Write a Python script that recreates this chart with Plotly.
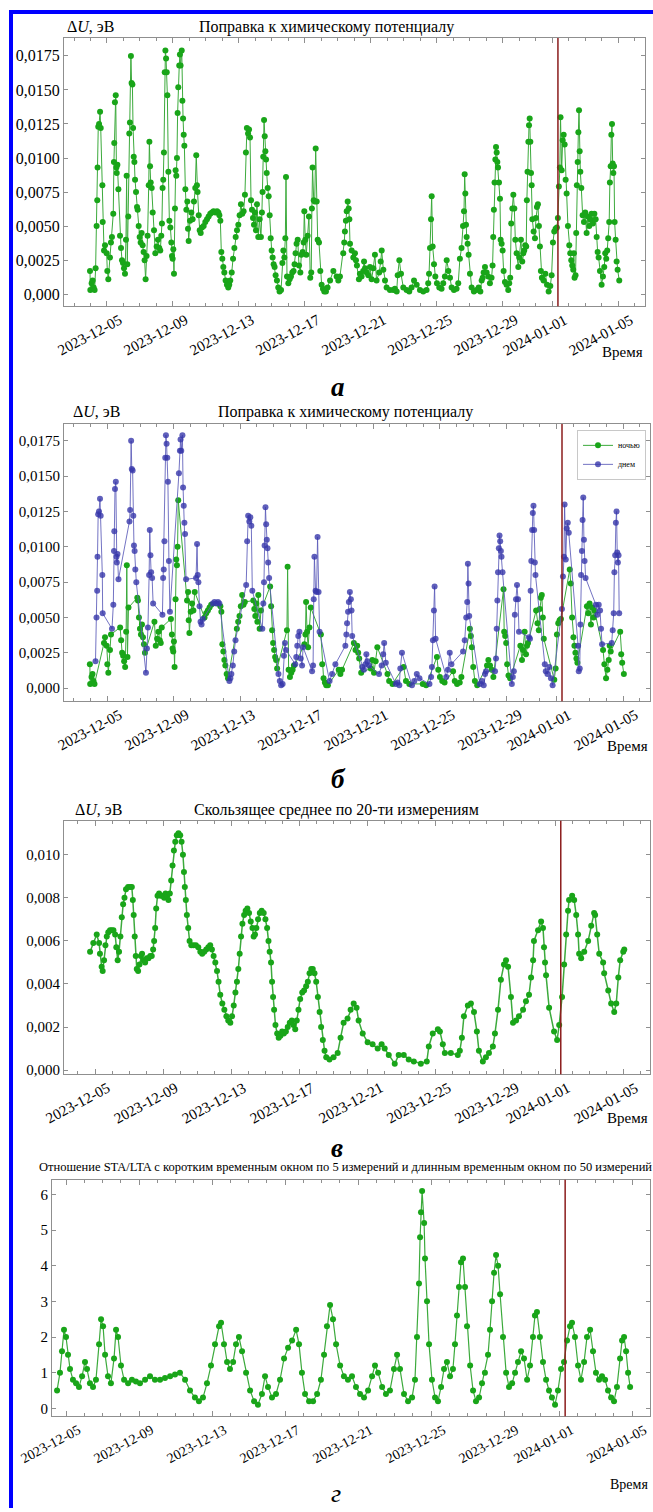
import pandas as pd
import plotly.graph_objects as go

BASE = pd.Timestamp("2023-12-05")

# ---------- Panel а / б : correction to chemical potential (time in days since 2023-12-05) ----------
t_a = [
    -1.03, -1.01, -0.93, -0.87, -0.81, -0.75, -0.69, -0.63, -0.59, -0.57,
    -0.53, -0.48, -0.42, -0.38, -0.28, -0.26, -0.18, -0.12, -0.02, 0.02,
    0.08, 0.18, 0.24, 0.30, 0.38, 0.42, 0.44, 0.48, 0.53, 0.57,
    0.59, 0.63, 0.69, 0.79, 0.85, 0.91, 0.97, 1.03, 1.09, 1.15,
    1.19, 1.23, 1.29, 1.35, 1.39, 1.45, 1.49, 1.54, 1.58, 1.62,
    1.66, 1.70, 1.76, 1.82, 1.86, 1.92, 1.98, 2.04, 2.10, 2.16,
    2.22, 2.28, 2.34, 2.40, 2.46, 2.53, 2.57, 2.61, 2.65, 2.71,
    2.77, 2.85, 2.93, 3.01, 3.09, 3.17, 3.23, 3.29, 3.33, 3.37,
    3.41, 3.45, 3.50, 3.54, 3.58, 3.62, 3.66, 3.72, 3.78, 3.84,
    3.90, 3.94, 3.98, 4.02, 4.06, 4.12, 4.16, 4.20, 4.24, 4.28,
    4.32, 4.38, 4.42, 4.46, 4.53, 4.57, 4.61, 4.65, 4.69, 4.75,
    4.81, 4.87, 4.91, 4.95, 5.03, 5.11, 5.19, 5.27, 5.35, 5.41,
    5.45, 5.49, 5.56, 5.62, 5.68, 5.76, 5.86, 5.96, 6.06, 6.16,
    6.26, 6.36, 6.46, 6.57, 6.67, 6.75, 6.81, 6.87, 6.93, 6.99,
    7.05, 7.11, 7.19, 7.27, 7.35, 7.41, 7.47, 7.56, 7.64, 7.72,
    7.80, 7.88, 7.96, 8.04, 8.12, 8.20, 8.28, 8.36, 8.42, 8.48,
    8.55, 8.61, 8.67, 8.73, 8.79, 8.85, 8.91, 8.97, 9.03, 9.09,
    9.17, 9.25, 9.33, 9.39, 9.43, 9.47, 9.52, 9.56, 9.60, 9.64,
    9.68, 9.74, 9.80, 9.86, 9.92, 9.98, 10.04, 10.10, 10.16, 10.22,
    10.30, 10.38, 10.46, 10.55, 10.63, 10.69, 10.75, 10.81, 10.85, 10.91,
    10.99, 11.07, 11.15, 11.23, 11.31, 11.37, 11.43, 11.49, 11.56, 11.64,
    11.72, 11.78, 11.86, 11.92, 11.96, 12.02, 12.08, 12.16, 12.24, 12.32,
    12.38, 12.42, 12.46, 12.53, 12.59, 12.65, 12.71, 12.77, 12.85, 12.93,
    13.01, 13.09, 13.17, 13.27, 13.37, 13.52, 13.72, 13.92, 14.02, 14.12,
    14.32, 14.38, 14.42, 14.48, 14.53, 14.59, 14.65, 14.69, 14.73, 14.83,
    14.93, 15.03, 15.09, 15.15, 15.27, 15.33, 15.43, 15.53, 15.58, 15.64,
    15.74, 15.84, 15.94, 16.04, 16.14, 16.24, 16.34, 16.50, 16.59, 16.65,
    16.75, 16.85, 16.95, 17.15, 17.35, 17.45, 17.56, 17.62, 17.72, 17.82,
    17.96, 18.16, 18.32, 18.46, 18.61, 18.77, 18.97, 19.17, 19.37, 19.47,
    19.52, 19.58, 19.64, 19.68, 19.74, 19.82, 19.90, 20.00, 20.14, 20.28,
    20.38, 20.48, 20.59, 20.69, 20.79, 20.89, 21.03, 21.19, 21.29, 21.39,
    21.49, 21.58, 21.64, 21.68, 21.72, 21.76, 21.80, 21.86, 21.92, 22.00,
    22.10, 22.24, 22.40, 22.53, 22.63, 22.71, 22.77, 22.83, 22.91, 23.01,
    23.11, 23.21, 23.31, 23.37, 23.41, 23.45, 23.49, 23.54, 23.58, 23.62,
    23.66, 23.70, 23.76, 23.82, 23.86, 23.92, 23.98, 24.04, 24.12, 24.22,
    24.32, 24.38, 24.44, 24.50, 24.57, 24.63, 24.69, 24.75, 24.83, 24.93,
    24.99, 25.09, 25.17, 25.23, 25.29, 25.35, 25.41, 25.45, 25.49, 25.54,
    25.58, 25.62, 25.66, 25.70, 25.74, 25.78, 25.86, 25.94, 26.00, 26.06,
    26.12, 26.18, 26.24, 26.30, 26.36, 26.46, 26.57, 26.67, 26.77, 26.87,
    26.95, 27.03, 27.11, 27.19, 27.27, 27.33, 27.39, 27.45, 27.49, 27.56,
    27.62, 27.68, 27.74, 27.80, 27.86, 27.94, 28.02, 28.08, 28.14, 28.20,
    28.26, 28.30, 28.34, 28.40, 28.44, 28.48, 28.53, 28.57, 28.61, 28.65,
    28.69, 28.75, 28.83, 28.91, 28.99, 29.07, 29.15, 29.23, 29.29, 29.37,
    29.45, 29.54, 29.62, 29.68, 29.74, 29.80, 29.88, 29.98, 30.06, 30.14,
    30.20, 30.26, 30.32, 30.38, 30.44, 30.48, 30.53, 30.57, 30.61, 30.65,
    30.69, 30.73, 30.77, 30.83, 30.89, 30.95, 31.05,
]
v_a = [
    0.0017, 0.0003, 0.0008, 0.0010, 0.0005, 0.0003, 0.0019, 0.0050, 0.0069, 0.0093,
    0.0123, 0.0125, 0.0134, 0.0122, 0.0080, 0.0053, 0.0032, 0.0036, 0.0030, 0.0017,
    0.0011, 0.0027, 0.0038, 0.0042, 0.0059, 0.0097, 0.0111, 0.0141, 0.0146, 0.0093,
    0.0089, 0.0095, 0.0077, 0.0043, 0.0034, 0.0025, 0.0023, 0.0019, 0.0015, 0.0040,
    0.0087, 0.0022, 0.0057, 0.0118, 0.0126, 0.0175, 0.0155, 0.0154, 0.0122, 0.0101,
    0.0097, 0.0084, 0.0075, 0.0064, 0.0062, 0.0050, 0.0042, 0.0038, 0.0045, 0.0036,
    0.0031, 0.0025, 0.0011, 0.0028, 0.0043, 0.0080, 0.0112, 0.0094, 0.0082, 0.0078,
    0.0060, 0.0047, 0.0030, 0.0035, 0.0040, 0.0034, 0.0032, 0.0043, 0.0052, 0.0078,
    0.0084, 0.0104, 0.0163, 0.0179, 0.0173, 0.0163, 0.0146, 0.0090, 0.0054, 0.0049,
    0.0038, 0.0028, 0.0026, 0.0033, 0.0015, 0.0063, 0.0091, 0.0087, 0.0100, 0.0133,
    0.0152, 0.0168, 0.0176, 0.0168, 0.0179, 0.0142, 0.0129, 0.0117, 0.0109, 0.0077,
    0.0062, 0.0068, 0.0048, 0.0039, 0.0054, 0.0060, 0.0055, 0.0068, 0.0078, 0.0102,
    0.0080, 0.0075, 0.0058, 0.0047, 0.0045, 0.0049, 0.0050, 0.0053, 0.0055, 0.0057,
    0.0059, 0.0060, 0.0061, 0.0060, 0.0061, 0.0060, 0.0058, 0.0054, 0.0031, 0.0026,
    0.0020, 0.0016, 0.0010, 0.0007, 0.0005, 0.0007, 0.0010, 0.0016, 0.0026, 0.0034,
    0.0042, 0.0047, 0.0051, 0.0058, 0.0066, 0.0059, 0.0061, 0.0073, 0.0104, 0.0122,
    0.0118, 0.0121, 0.0115, 0.0069, 0.0062, 0.0056, 0.0051, 0.0060, 0.0047, 0.0066,
    0.0042, 0.0055, 0.0042, 0.0060, 0.0075, 0.0101, 0.0128, 0.0116, 0.0105, 0.0099,
    0.0089, 0.0078, 0.0072, 0.0058, 0.0041, 0.0032, 0.0027, 0.0022, 0.0020, 0.0014,
    0.0010, 0.0005, 0.0002, 0.0003, 0.0023, 0.0032, 0.0027, 0.0041, 0.0086, 0.0013,
    0.0008, 0.0011, 0.0013, 0.0016, 0.0017, 0.0022, 0.0030, 0.0037, 0.0040, 0.0021,
    0.0016, 0.0029, 0.0031, 0.0038, 0.0061, 0.0040, 0.0029, 0.0043, 0.0057, 0.0012,
    0.0016, 0.0063, 0.0093, 0.0069, 0.0068, 0.0107, 0.0068, 0.0040, 0.0038, 0.0017,
    0.0007, 0.0004, 0.0002, 0.0002, 0.0005, 0.0010, 0.0017, 0.0013, 0.0010, 0.0013,
    0.0030, 0.0038, 0.0046, 0.0054, 0.0061, 0.0068, 0.0063, 0.0055, 0.0037, 0.0032,
    0.0027, 0.0030, 0.0025, 0.0021, 0.0011, 0.0015, 0.0013, 0.0017, 0.0024, 0.0019,
    0.0016, 0.0014, 0.0020, 0.0011, 0.0019, 0.0029, 0.0010, 0.0016, 0.0024, 0.0032,
    0.0018, 0.0010, 0.0005, 0.0003, 0.0003, 0.0004, 0.0002, 0.0014, 0.0025, 0.0015,
    0.0005, 0.0003, 0.0002, 0.0005, 0.0010, 0.0007, 0.0003, 0.0002, 0.0003, 0.0008,
    0.0015, 0.0034, 0.0055, 0.0072, 0.0035, 0.0022, 0.0013, 0.0008, 0.0005, 0.0004,
    0.0008, 0.0013, 0.0025, 0.0017, 0.0012, 0.0005, 0.0003, 0.0004, 0.0008, 0.0026,
    0.0034, 0.0050, 0.0061, 0.0088, 0.0074, 0.0051, 0.0042, 0.0037, 0.0029, 0.0015,
    0.0005, 0.0002, 0.0003, 0.0005, 0.0002, 0.0010, 0.0012, 0.0016, 0.0020, 0.0016,
    0.0013, 0.0008, 0.0012, 0.0021, 0.0042, 0.0062, 0.0082, 0.0099, 0.0108, 0.0104,
    0.0097, 0.0093, 0.0082, 0.0070, 0.0040, 0.0037, 0.0032, 0.0017, 0.0009, 0.0007,
    0.0003, 0.0008, 0.0012, 0.0052, 0.0063, 0.0073, 0.0063, 0.0040, 0.0030, 0.0020,
    0.0027, 0.0040, 0.0024, 0.0030, 0.0032, 0.0036, 0.0035, 0.0069, 0.0090, 0.0112,
    0.0124, 0.0129, 0.0112, 0.0089, 0.0080, 0.0055, 0.0046, 0.0041, 0.0056, 0.0064,
    0.0066, 0.0050, 0.0035, 0.0017, 0.0012, 0.0010, 0.0015, 0.0007, 0.0002, 0.0006,
    0.0014, 0.0038, 0.0046, 0.0048, 0.0049, 0.0056, 0.0079, 0.0093, 0.0130, 0.0091,
    0.0113, 0.0117, 0.0110, 0.0084, 0.0074, 0.0050, 0.0036, 0.0030, 0.0025, 0.0021,
    0.0018, 0.0030, 0.0012, 0.0014, 0.0045, 0.0080, 0.0097, 0.0119, 0.0135, 0.0105,
    0.0090, 0.0078, 0.0058, 0.0053, 0.0060, 0.0045, 0.0057, 0.0050, 0.0055, 0.0059,
    0.0052, 0.0059, 0.0055, 0.0042, 0.0031, 0.0027, 0.0017, 0.0007, 0.0013, 0.0020,
    0.0030, 0.0026, 0.0032, 0.0041, 0.0053, 0.0082, 0.0094, 0.0117, 0.0125, 0.0096,
    0.0089, 0.0094, 0.0053, 0.0040, 0.0024, 0.0018, 0.0010,
]

# ---------- Panel в : moving average over 20 measurements ----------
t_c = [
    -0.29, -0.10, 0.10, 0.24, 0.29, 0.39, 0.45, 0.53, 0.61, 0.69,
    0.78, 0.88, 0.98, 1.08, 1.18, 1.25, 1.33, 1.41, 1.49, 1.57,
    1.65, 1.73, 1.82, 1.94, 2.06, 2.16, 2.22, 2.27, 2.33, 2.39,
    2.45, 2.53, 2.61, 2.69, 2.76, 2.84, 2.94, 3.04, 3.14, 3.24,
    3.33, 3.41, 3.47, 3.53, 3.59, 3.67, 3.76, 3.86, 3.96, 4.06,
    4.14, 4.22, 4.31, 4.39, 4.47, 4.55, 4.63, 4.71, 4.80, 4.90,
    5.00, 5.08, 5.16, 5.22, 5.27, 5.33, 5.39, 5.47, 5.55, 5.65,
    5.78, 5.92, 6.06, 6.18, 6.29, 6.41, 6.53, 6.65, 6.76, 6.86,
    6.96, 7.06, 7.16, 7.25, 7.35, 7.47, 7.59, 7.71, 7.82, 7.94,
    8.04, 8.14, 8.24, 8.33, 8.41, 8.49, 8.57, 8.65, 8.75, 8.84,
    8.94, 9.04, 9.14, 9.24, 9.31, 9.39, 9.47, 9.57, 9.67, 9.78,
    9.90, 10.00, 10.10, 10.18, 10.25, 10.33, 10.39, 10.45, 10.51, 10.59,
    10.69, 10.78, 10.88, 10.98, 11.08, 11.20, 11.31, 11.43, 11.55, 11.65,
    11.75, 11.84, 11.94, 12.04, 12.16, 12.27, 12.39, 12.49, 12.59, 12.69,
    12.78, 12.88, 12.98, 13.08, 13.18, 13.27, 13.37, 13.47, 13.57, 13.76,
    14.00, 14.24, 14.41, 14.59, 14.82, 15.00, 15.18, 15.35, 15.47, 15.71,
    16.00, 16.29, 16.59, 16.82, 17.00, 17.24, 17.59, 17.82, 18.12, 18.41,
    18.71, 19.12, 19.47, 19.59, 19.82, 20.12, 20.24, 20.41, 20.53, 20.88,
    21.29, 21.41, 21.53, 21.65, 21.88, 22.06, 22.24, 22.41, 22.53, 22.76,
    22.94, 23.12, 23.35, 23.47, 23.65, 23.82, 24.00, 24.12, 24.24, 24.41,
    24.53, 24.71, 24.88, 25.12, 25.29, 25.47, 25.59, 25.71, 25.76, 26.00,
    26.18, 26.29, 26.35, 26.41, 26.47, 26.65, 26.94, 27.12, 27.24, 27.41,
    27.53, 27.65, 27.76, 27.82, 28.00, 28.12, 28.24, 28.35, 28.41, 28.53,
    28.71, 28.94, 29.12, 29.29, 29.35, 29.47, 29.59, 29.82, 29.88, 30.12,
    30.29, 30.47, 30.59, 30.71, 30.82, 31.00, 31.06,
]
v_c = [
    0.0055, 0.0059, 0.0063, 0.0059, 0.0054, 0.0048, 0.0046, 0.0051, 0.0058, 0.0062,
    0.0064, 0.0065, 0.0065, 0.0065, 0.0063, 0.0057, 0.0051, 0.0055, 0.0062, 0.0071,
    0.0077, 0.0080, 0.0084, 0.0085, 0.0085, 0.0085, 0.0079, 0.0072, 0.0062, 0.0053,
    0.0047, 0.0046, 0.0049, 0.0053, 0.0054, 0.0051, 0.0050, 0.0052, 0.0052, 0.0053,
    0.0053, 0.0056, 0.0060, 0.0066, 0.0075, 0.0081, 0.0082, 0.0081, 0.0081, 0.0080,
    0.0082, 0.0081, 0.0079, 0.0082, 0.0088, 0.0095, 0.0102, 0.0106, 0.0109, 0.0110,
    0.0109, 0.0106, 0.0100, 0.0092, 0.0085, 0.0079, 0.0072, 0.0066, 0.0060, 0.0058,
    0.0058, 0.0058, 0.0057, 0.0055, 0.0054, 0.0055, 0.0056, 0.0057, 0.0058, 0.0056,
    0.0053, 0.0050, 0.0046, 0.0041, 0.0035, 0.0031, 0.0028, 0.0025, 0.0023, 0.0022,
    0.0025, 0.0030, 0.0036, 0.0041, 0.0047, 0.0054, 0.0062, 0.0068, 0.0072, 0.0074,
    0.0075, 0.0073, 0.0069, 0.0066, 0.0062, 0.0063, 0.0066, 0.0070, 0.0073, 0.0074,
    0.0073, 0.0070, 0.0066, 0.0060, 0.0055, 0.0050, 0.0041, 0.0034, 0.0028, 0.0021,
    0.0017, 0.0015, 0.0016, 0.0018, 0.0017, 0.0018, 0.0020, 0.0022, 0.0023, 0.0021,
    0.0019, 0.0023, 0.0028, 0.0033, 0.0036, 0.0037, 0.0039, 0.0041, 0.0045, 0.0047,
    0.0047, 0.0045, 0.0041, 0.0034, 0.0027, 0.0020, 0.0014, 0.0009, 0.0006, 0.0005,
    0.0006, 0.0008, 0.0015, 0.0022, 0.0024, 0.0028, 0.0031, 0.0029, 0.0023, 0.0017,
    0.0013, 0.0012, 0.0010, 0.0012, 0.0010, 0.0007, 0.0003, 0.0007, 0.0007, 0.0005,
    0.0004, 0.0003, 0.0004, 0.0011, 0.0017, 0.0019, 0.0018, 0.0012, 0.0008, 0.0008,
    0.0007, 0.0009, 0.0015, 0.0025, 0.0030, 0.0031, 0.0027, 0.0018, 0.0009, 0.0004,
    0.0006, 0.0008, 0.0011, 0.0017, 0.0028, 0.0042, 0.0049, 0.0051, 0.0048, 0.0034,
    0.0022, 0.0023, 0.0025, 0.0028, 0.0032, 0.0035, 0.0043, 0.0051, 0.0060, 0.0065,
    0.0069, 0.0066, 0.0057, 0.0050, 0.0044, 0.0029, 0.0018, 0.0014, 0.0021, 0.0034,
    0.0049, 0.0063, 0.0074, 0.0079, 0.0081, 0.0079, 0.0072, 0.0063, 0.0054, 0.0052,
    0.0055, 0.0060, 0.0067, 0.0073, 0.0072, 0.0063, 0.0054, 0.0050, 0.0045, 0.0037,
    0.0031, 0.0027, 0.0031, 0.0043, 0.0051, 0.0055, 0.0056,
]

# ---------- Panel г : STA/LTA ratio ----------
t_d = [
    -0.49, -0.33, -0.22, -0.11, 0.00, 0.11, 0.22, 0.38, 0.55, 0.71,
    0.88, 1.04, 1.15, 1.31, 1.48, 1.64, 1.81, 1.92, 2.03, 2.14,
    2.30, 2.46, 2.63, 2.74, 2.85, 3.01, 3.18, 3.40, 3.61, 3.83,
    4.05, 4.33, 4.60, 4.87, 5.15, 5.42, 5.70, 5.97, 6.24, 6.52,
    6.79, 7.06, 7.28, 7.50, 7.72, 7.94, 8.16, 8.38, 8.49, 8.65,
    8.82, 8.98, 9.15, 9.31, 9.47, 9.64, 9.86, 10.08, 10.30, 10.51,
    10.73, 10.90, 11.06, 11.28, 11.50, 11.72, 11.94, 12.16, 12.38, 12.60,
    12.76, 12.92, 13.09, 13.31, 13.53, 13.75, 13.96, 14.13, 14.29, 14.46,
    14.62, 14.79, 15.01, 15.22, 15.44, 15.66, 15.88, 16.10, 16.32, 16.54,
    16.76, 16.92, 17.09, 17.31, 17.52, 17.74, 17.96, 18.13, 18.29, 18.51,
    18.73, 18.95, 19.11, 19.22, 19.33, 19.39, 19.44, 19.50, 19.61, 19.66,
    19.77, 19.88, 20.04, 20.21, 20.37, 20.54, 20.70, 20.86, 21.03, 21.19,
    21.30, 21.41, 21.52, 21.63, 21.74, 21.85, 21.96, 22.13, 22.29, 22.45,
    22.62, 22.78, 22.94, 23.11, 23.22, 23.33, 23.44, 23.55, 23.66, 23.77,
    23.93, 24.10, 24.26, 24.43, 24.59, 24.75, 24.92, 25.08, 25.25, 25.41,
    25.57, 25.68, 25.79, 25.95, 26.12, 26.29, 26.45, 26.61, 26.78, 26.94,
    27.11, 27.27, 27.44, 27.60, 27.71, 27.87, 28.04, 28.20, 28.37, 28.53,
    28.70, 28.86, 29.02, 29.19, 29.35, 29.52, 29.68, 29.85, 30.01, 30.17,
    30.34, 30.45, 30.56, 30.67, 30.78, 30.89,
]
v_d = [
    0.5, 1.0, 1.6, 2.2, 2.0, 1.5, 1.1, 0.8, 0.7, 0.6,
    0.9, 1.3, 1.1, 0.7, 0.6, 0.8, 1.8, 2.5, 2.3, 1.5,
    0.9, 0.7, 1.4, 2.2, 2.0, 1.2, 0.8, 0.7, 0.8, 0.75,
    0.7, 0.8, 0.9, 0.8, 0.8, 0.85, 0.9, 0.95, 1.0, 0.8,
    0.5, 0.3, 0.2, 0.3, 0.7, 1.2, 1.8, 2.3, 2.4, 1.8,
    1.3, 1.1, 1.3, 1.8, 2.0, 1.6, 1.0, 0.5, 0.2, 0.1,
    0.4, 0.9, 0.6, 0.3, 0.4, 0.8, 1.4, 1.7, 1.9, 2.2,
    1.8, 1.0, 0.4, 0.2, 0.2, 0.4, 0.8, 1.5, 2.3, 2.9,
    2.5, 1.8, 1.2, 0.9, 0.8, 0.9, 0.6, 0.4, 0.3, 0.5,
    0.9, 1.2, 1.0, 0.6, 0.4, 0.5, 1.1, 1.5, 1.1, 0.4,
    0.2, 0.3, 0.8, 2.0, 3.5, 4.8, 5.5, 6.1, 5.2, 4.2,
    3.0, 1.8, 0.8, 0.3, 0.2, 0.6, 1.1, 1.3, 0.9, 1.1,
    1.8, 2.6, 3.4, 4.1, 4.2, 3.4, 2.3, 1.2, 0.5, 0.2,
    0.3, 0.7, 1.0, 1.5, 2.2, 3.0, 3.8, 4.3, 4.0, 3.2,
    2.0, 1.0, 0.6, 0.7, 1.0, 1.3, 1.6, 1.4, 0.8, 1.2,
    2.0, 2.6, 2.7, 2.0, 1.3, 0.8, 0.5, 0.3, 0.1, 0.5,
    1.1, 1.3, 1.9, 2.3, 2.4, 2.0, 1.2, 0.8, 1.3, 2.0,
    2.2, 1.6, 1.0, 0.8, 0.9, 0.8, 0.5, 0.3, 0.2, 0.6,
    1.4, 1.9, 2.0, 1.6, 1.0, 0.6,
]

X_TICK_DATES = ["2023-12-05", "2023-12-09", "2023-12-13", "2023-12-17", "2023-12-21",
                "2023-12-25", "2023-12-29", "2024-01-01", "2024-01-05"]
Y_AB_VALS = [0, 0.0025, 0.005, 0.0075, 0.01, 0.0125, 0.015, 0.0175]
Y_AB_TEXT = ["0,000", "0,0025", "0,0050", "0,0075", "0,0100", "0,0125", "0,0150", "0,0175"]
Y_C_VALS = [0, 0.002, 0.004, 0.006, 0.008, 0.010]
Y_C_TEXT = ["0,000", "0,002", "0,004", "0,006", "0,008", "0,010"]
Y_D_VALS = [0, 1, 2, 3, 4, 5, 6]
Y_D_TEXT = ["0", "1", "2", "3", "4", "5", "6"]
EVENT_TIME = "2024-01-01 08:00"

TITLE_A = "Поправка к химическому потенциалу"
TITLE_C = "Скользящее среднее по 20-ти измерениям"
TITLE_D = ("Отношение STA/LTA с коротким временным окном по 5 измерений "
           "и длинным временным окном по 50 измерений")
YLABEL = "Δ<i>U</i>, эВ"

# ---------- styling / layout ----------
W, H = 653, 1512
SERIF = "'Liberation Serif', 'Times New Roman', serif"
GREEN = "rgb(25,165,25)"
GREEN_LINE = "rgb(60,170,60)"
BLUE = "rgba(55,55,170,0.8)"
BLUE_LINE = "rgba(90,90,185,0.85)"
FRAME = "#8f8f8f"


def fx(px):
    return px / W


def fy(py):
    return 1 - py / H


def days(ds):
    return [BASE + pd.Timedelta(days=d) for d in ds]


def date_at(d):
    return BASE + pd.Timedelta(days=d)


# pixel boxes (left, right, top, bottom), x-range (days), y-range
PANELS = {
    1: dict(box=(64, 645, 38, 307), xr=(-2.606, 32.61), yr=(-0.00088, 0.01882),
            yv=Y_AB_VALS, yt=Y_AB_TEXT, yfs=16),
    2: dict(box=(64, 650, 425, 703), xr=(-2.583, 32.62), yr=(-0.000917, 0.0187),
            yv=Y_AB_VALS, yt=Y_AB_TEXT, yfs=15),
    3: dict(box=(64, 650, 823, 1077), xr=(-1.82, 32.57), yr=(-0.000185, 0.011574),
            yv=Y_C_VALS, yt=Y_C_TEXT, yfs=15),
    4: dict(box=(52, 650, 1183, 1420), xr=(-0.767, 31.98), yr=(-0.224, 6.41),
            yv=Y_D_VALS, yt=Y_D_TEXT, yfs=15),
}

fig = go.Figure()

x_a = days(t_a)
night_mask = [((d % 1) < 0.3) or ((d % 1) >= 0.78) for d in t_a]

MS = 6
# panel а
fig.add_trace(go.Scatter(x=x_a, y=v_a, mode="lines+markers", xaxis="x", yaxis="y",
                         line=dict(color=GREEN_LINE, width=1),
                         marker=dict(color=GREEN, size=MS), showlegend=False))
# panel б
fig.add_trace(go.Scatter(x=[x for x, n in zip(x_a, night_mask) if n],
                         y=[v for v, n in zip(v_a, night_mask) if n],
                         mode="lines+markers", xaxis="x2", yaxis="y2", name="ночью",
                         line=dict(color=GREEN_LINE, width=1),
                         marker=dict(color=GREEN, size=MS)))
fig.add_trace(go.Scatter(x=[x for x, n in zip(x_a, night_mask) if not n],
                         y=[v for v, n in zip(v_a, night_mask) if not n],
                         mode="lines+markers", xaxis="x2", yaxis="y2", name="днем",
                         line=dict(color=BLUE_LINE, width=1),
                         marker=dict(color=BLUE, size=MS)))
# panel в
fig.add_trace(go.Scatter(x=days(t_c), y=v_c, mode="lines+markers", xaxis="x3", yaxis="y3",
                         line=dict(color=GREEN_LINE, width=1.5),
                         marker=dict(color=GREEN, size=MS), showlegend=False))
# panel г
fig.add_trace(go.Scatter(x=days(t_d), y=v_d, mode="lines+markers", xaxis="x4", yaxis="y4",
                         line=dict(color=GREEN_LINE, width=1.2),
                         marker=dict(color=GREEN, size=MS), showlegend=False))

layout = dict(width=W, height=H, autosize=False,
              margin=dict(l=0, r=0, t=0, b=0, pad=0),
              paper_bgcolor="white", plot_bgcolor="white",
              font=dict(family=SERIF, color="black"),
              legend=dict(x=fx(646), y=fy(431), xanchor="right", yanchor="top",
                          bordercolor="#c8c8c8", borderwidth=1, bgcolor="white",
                          font=dict(family=SERIF, size=8, color="black"), itemwidth=30,
                          tracegroupgap=0))

annotations = []
shapes = []

for p, cfg in PANELS.items():
    l, r, t, b = cfg["box"]
    sfx = "" if p == 1 else str(p)
    layout["xaxis" + sfx] = dict(
        type="date", domain=[fx(l), fx(r)], anchor="y" + sfx,
        range=[date_at(cfg["xr"][0]), date_at(cfg["xr"][1])],
        tickmode="array", tickvals=X_TICK_DATES, showticklabels=False,
        ticks="inside", ticklen=5, tickcolor=FRAME, tickwidth=1,
        showline=True, linecolor=FRAME, linewidth=1, mirror="ticks",
        showgrid=False, zeroline=False,
        minor=dict(tickmode="linear", tick0="2023-12-01", dtick=86400000,
                   ticks="inside", ticklen=3, tickcolor=FRAME, showgrid=False),
    )
    layout["yaxis" + sfx] = dict(
        domain=[fy(b), fy(t)], anchor="x" + sfx, range=list(cfg["yr"]),
        tickmode="array", tickvals=cfg["yv"], ticktext=cfg["yt"],
        tickfont=dict(family=SERIF, size=cfg["yfs"], color="black"),
        ticks="inside", ticklen=4, tickcolor=FRAME,
        showline=True, linecolor=FRAME, linewidth=1, mirror="ticks",
        showgrid=False, zeroline=False,
    )
    # rotated date labels
    fs = 15 if p < 4 else 14
    for d in X_TICK_DATES:
        annotations.append(dict(
            text=d, x=d, xref="x" + sfx, y=fy(b), yref="paper",
            xshift=-17 if p < 4 else -16, yshift=-29 if p < 4 else -28,
            textangle=-28, showarrow=False, xanchor="center", yanchor="middle",
            font=dict(family=SERIF, size=fs, color="black")))
    # event line
    shapes.append(dict(type="line", xref="x" + sfx, yref="y" + sfx + " domain",
                       x0=EVENT_TIME, x1=EVENT_TIME, y0=0, y1=1,
                       line=dict(color="#8b1c1c", width=1.5)))


def ann(text, px, py, size, xanchor="center", bold=False, italic=False):
    txt = text
    if bold:
        txt = "<b>" + txt + "</b>"
    if italic:
        txt = "<i>" + txt + "</i>"
    return dict(text=txt, x=fx(px), y=fy(py), xref="paper", yref="paper",
                xanchor=xanchor, yanchor="middle", showarrow=False,
                font=dict(family=SERIF, size=size, color="black"))


annotations += [
    ann(YLABEL, 65, 27, 16, "left"),
    ann(TITLE_A, 326, 27, 16),
    ann("Время", 645, 353, 15, "right"),
    ann("а", 338, 388, 27, bold=True, italic=True),

    ann(YLABEL, 71, 413, 16, "left"),
    ann(TITLE_A, 345, 413, 16),
    ann("Время", 650, 748, 15, "right"),
    ann("б", 338, 781, 27, bold=True, italic=True),

    ann(YLABEL, 73, 812, 16, "left"),
    ann(TITLE_C, 336, 812, 16),
    ann("Время", 650, 1121, 15, "right"),
    ann("в", 337, 1151, 27, bold=True, italic=True),

    ann(TITLE_D, 345, 1170, 12.5),
    ann("Время", 650, 1488, 14, "right"),
    ann("г", 336, 1497, 26, bold=False, italic=True),
]

# blue page border (left and top)
shapes += [
    dict(type="rect", xref="paper", yref="paper", x0=fx(9), x1=fx(13), y0=0, y1=fy(10),
         fillcolor="#0000ff", line=dict(width=0), layer="above"),
    dict(type="rect", xref="paper", yref="paper", x0=fx(9), x1=1, y0=fy(14), y1=fy(10),
         fillcolor="#0000ff", line=dict(width=0), layer="above"),
]

layout["annotations"] = annotations
layout["shapes"] = shapes
fig.update_layout(**layout)

fig.write_html("out.html")
